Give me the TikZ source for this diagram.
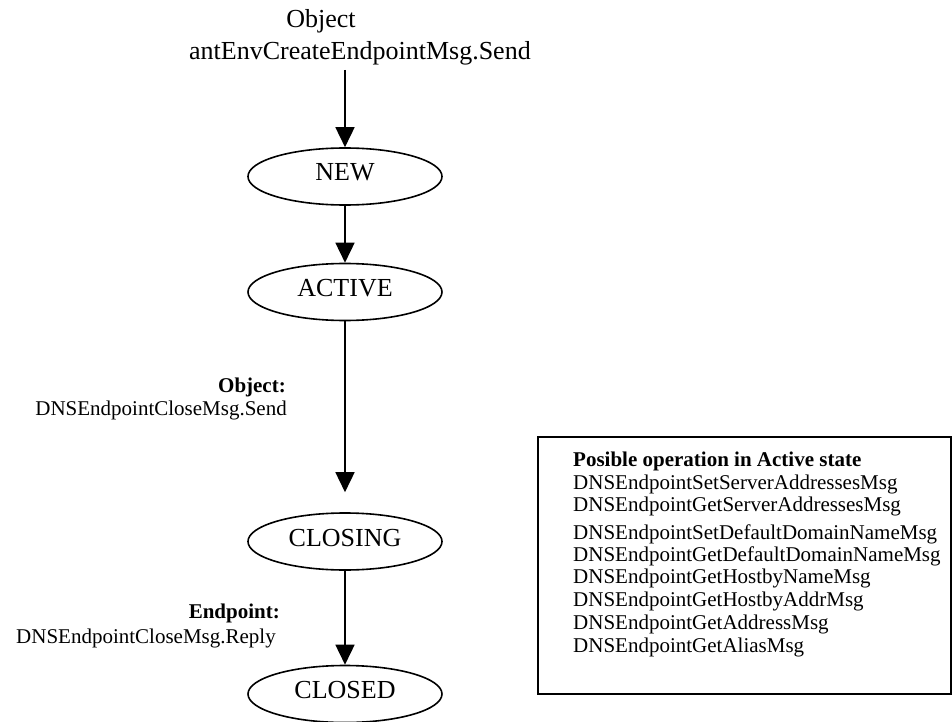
\documentclass[tikz,border=0pt]{standalone}
\usepackage{fontspec}
\setmainfont{Liberation Serif}
\usetikzlibrary{arrows.meta,shapes.geometric}
\begin{document}
\begin{tikzpicture}[x=1pt,y=-1pt,
  state/.style={draw, line width=1.6pt, ellipse, minimum width=194pt, minimum height=57pt,
    inner sep=0pt, text height=17pt, text depth=8pt, font=\fontsize{26}{30}\selectfont},
  big/.style={font=\fontsize{26}{30}\selectfont, inner sep=0pt},
  small/.style={font=\fontsize{21}{24}\selectfont, inner sep=0pt},
  flow/.style={line width=1.6pt, -{Triangle[length=20pt,width=19pt]}},
  panel/.style={draw, line width=2pt, inner sep=0pt, anchor=north west},
]
\useasboundingbox (0,0) rectangle (952,722);

% top label
\node[big, anchor=base] (obj) at (321,28) {Object};
\node[big, anchor=base west] (msg) at (189,60) {antEnvCreateEndpointMsg.Send};
\coordinate (start) at (345,70);

% states
\node[state] (new) at (345,176.5) {NEW};
\node[state] (active) at (345,292) {ACTIVE};
\node[state] (closing) at (345,541.5) {CLOSING};
\node[state] (closed) at (345,694) {CLOSED};

% connectors
\draw[flow] (start) -- (new);
\draw[flow] (new) -- (active);
\draw[flow, shorten >=20pt] (active) -- (closing);
\draw[flow] (closing) -- (closed);

% edge labels
\node[small, anchor=base east] (l1a) at (286,392) {\bfseries Object:};
\node[small, anchor=base east] (l1b) at (287,415) {DNSEndpointCloseMsg.Send};
\node[small, anchor=base east] (l2a) at (280,618) {\bfseries Endpoint:};
\node[small, anchor=base east] (l2b) at (276,643) {DNSEndpointCloseMsg.Reply};

% box of possible operations
\node[panel, minimum width=413pt, minimum height=257pt] (box) at (537,436) {};
\node[small, anchor=base west] (p0) at (573,466) {\bfseries Posible operation in Active state};
\node[small, anchor=base west] (p1) at (573,489) {DNSEndpointSetServerAddressesMsg};
\node[small, anchor=base west] (p2) at (573,511) {DNSEndpointGetServerAddressesMsg};
\node[small, anchor=base west] (p3) at (573,539) {DNSEndpointSetDefaultDomainNameMsg};
\node[small, anchor=base west] (p4) at (573,561) {DNSEndpointGetDefaultDomainNameMsg};
\node[small, anchor=base west] (p5) at (573,583) {DNSEndpointGetHostbyNameMsg};
\node[small, anchor=base west] (p6) at (573,606) {DNSEndpointGetHostbyAddrMsg};
\node[small, anchor=base west] (p7) at (573,629) {DNSEndpointGetAddressMsg};
\node[small, anchor=base west] (p8) at (573,652) {DNSEndpointGetAliasMsg};
\end{tikzpicture}
\end{document}
